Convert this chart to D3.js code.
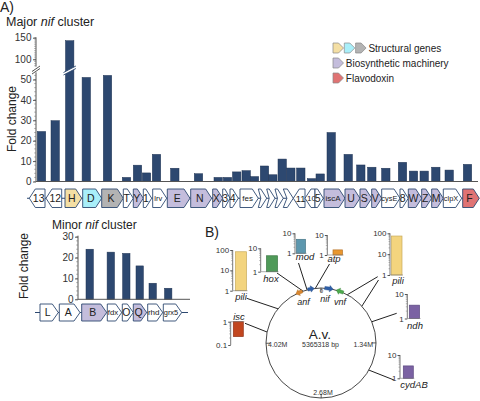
<!DOCTYPE html>
<html><head><meta charset="utf-8">
<script src="https://cdn.jsdelivr.net/npm/d3@7"></script>
<style>body{margin:0;background:#fff}svg{display:block;font-family:"Liberation Sans",Arial,sans-serif}</style>
</head><body><svg id="c" width="480" height="401"></svg>
<script>
// ---------- DATA ----------
// Major nif cluster genes (position in kb along the cluster)
const majorGenes  = ["13","12","H","D","K","T","Y","1","lrv","E","N","X","3","4","fes","","","","","11","10","5","iscA","U","S","V","cysE","8","W","Z","M","clpX","F"];
const majorStart  = [0.03,1.70,3.60,5.37,7.27,9.43,10.43,11.43,12.37,13.83,16.17,18.37,19.37,20.10,21.10,22.93,23.77,24.60,25.43,26.43,27.60,28.60,29.50,31.60,33.10,34.27,35.27,37.10,37.93,39.27,40.27,41.43,43.37];
const majorEnd    = [1.60,3.27,5.27,7.27,9.43,10.43,11.43,12.27,13.77,16.10,18.27,19.37,20.10,20.93,22.93,23.77,24.60,25.43,26.43,27.60,28.60,29.43,31.60,33.10,34.27,35.27,37.10,37.93,39.27,40.27,41.43,43.27,45.03];
const majorStrand = [-1,-1,1,1,1,1,1,1,1,1,1,1,1,1,1,1,1,1,1,-1,-1,1,1,1,1,1,1,1,1,1,1,1,1];
const majorType   = ["o","o","H","D","K","o","b","o","o","b","b","b","o","o","o","o","o","o","o","o","o","o","b","b","b","b","o","o","b","b","b","o","f"];
// Major cluster fold change bars (position kb, value)
const majorBarPos   = [1.25,2.62,4.07,5.73,7.85,9.75,10.85,11.75,12.75,14.58,16.95,18.92,19.85,20.77,21.72,22.55,23.55,24.38,25.32,26.18,27.18,28.25,29.12,30.22,31.92,33.18,34.28,35.68,37.35,38.45,39.52,40.68,42.02,43.85];
const majorBarValue = [24.5,29.8,143,51,52,2,8,4.2,13.3,6.5,3.8,2,2,4.7,5.3,2.4,7.6,3.3,11,6.6,6.6,1.4,3.7,24,13.3,8.1,7,6.5,9.4,5.1,5.1,7,5.6,8.4];
const majorLowTicks  = [0,10,20,30,40,50];
const majorHighTicks = [100,150];

// Minor nif cluster
const minorGenes  = ["L","A","B","fdx","O","Q","rhd","grx5"];
const minorStart  = [0.5,2.43,4.67,7.23,8.73,9.83,11.27,12.83];
const minorEnd    = [2.33,4.5,7.17,8.67,9.83,11.17,12.77,14.67];
const minorStrand = [1,1,1,1,1,1,1,1];
const minorType   = ["o","o","b","o","o","b","o","o"];
const minorBarPos   = [5.47,7.58,9.13,10.47,11.77,13.32];
const minorBarValue = [24,22.6,22,16,7.7,5.3];
const minorTicks = [0,10,20,30];

// Legend
const legendLabels = ["Structural genes","Biosynthetic machinery","Flavodoxin"];
const legendTypes  = [["H","D","K"],["b"],["f"]];

// Panel B: genome
const genomeLength = 5365318;
const genomeTicks  = [0,1340000,2680000,4020000];
const genomeTickLabels = ["0","1.34M","2.68M","4.02M"];
const clusterNames  = ["anf","nif","nif","vnf"];
const clusterPos    = [5015000,5208800,123700,298000];
const clusterStrand = [-1,1,1,-1];
const lociNames = ["pili","hox","mod","atp","pili","ndh","isc","cydAB"];
const lociPos   = [[4597700],[5079200],[5146200],[5277400],[426200,715400],[1003000],[4195300],[1781000]];
const lociValue = [82,4.8,5,1.8,74,3.5,0.23,3.4];
const lociMin   = [1,1,1,1,1,1,0.1,1];
const lociMax   = [100,10,10,10,100,10,1,10];

// ---------- STYLE / LAYOUT ----------
const navy = "#2d4870";
const fills = {o:"#ffffff",H:"#f4dfa4",D:"#a9eff9",K:"#b3b3b3",b:"#c4bddc",f:"#e07373"};
const lociColor  = ["#f3d47e","#4f9a59","#5d97ae","#e9972f","#f3d47e","#7b62a3","#c2461f","#7b62a3"];
const lociStroke = ["#c8aa5a","#3b7744","#467587","#b8752a","#c8aa5a","#5b4880","#90341a","#5b4880"];
const miniLayout = [
 {ax:232.7,yb:290.7,yt:250,  bx0:235.5,bx1:246.5,lx:241,ly:300,  lineFrom:[[246.7,298.3]]},
 {ax:260.7,yb:271.7,yt:248.3,bx0:266.5,bx1:277.5,lx:271,ly:281.5,lineFrom:[[277,273]]},
 {ax:295,  yb:253.3,yt:233.3,bx0:296.5,bx1:305.5,lx:305,ly:259.5,lineFrom:[[298.5,263]]},
 {ax:327.3,yb:255,  yt:235,  bx0:333,  bx1:342.5,lx:334,ly:262,  lineFrom:[[329.5,264]]},
 {ax:390,  yb:275,  yt:233.3,bx0:391.5,bx1:402,  lx:398,ly:283.5,lineFrom:[[377.7,276.7],[378.5,280]]},
 {ax:407.3,yb:318.5,yt:294,  bx0:409.3,bx1:419.5,lx:415,ly:328.5,lineFrom:[[396.7,313.3]]},
 {ax:230.7,yb:345,  yt:321.7,bx0:233.3,bx1:243.3,lx:239,ly:319.5,lineFrom:[[245,323.3]]},
 {ax:400,  yb:378.3,yt:355,  bx0:403.3,bx1:413.3,lx:414,ly:387.5,lineFrom:[[394,380]]}
];

const svg = d3.select("#c");

function genePath(x0,x1,yT,yB,strand,head,notch){
  const ym=(yT+yB)/2, w=x1-x0, h=Math.min(head,w*0.7);
  if(strand>0){
    const n = notch? Math.min(h*0.6,w-h) : 0;
    return `M${x0},${yT}L${x1-h},${yT}L${x1},${ym}L${x1-h},${yB}L${x0},${yB}L${x0+n},${ym}Z`;
  }
  return `M${x1},${yT}L${x0+h},${yT}L${x0},${ym}L${x0+h},${yB}L${x1},${yB}Z`;
}

function drawGenes(g,x,labels,starts,ends,strands,types,yT,yB,backbone){
  const ym=(yT+yB)/2;
  if(backbone) g.append("line").attr("x1",backbone[0]).attr("x2",backbone[1]).attr("y1",ym).attr("y2",ym).attr("stroke",navy).attr("stroke-width",1);
  labels.forEach((lab,i)=>{
    const x0=x(starts[i]), x1=x(ends[i]);
    const head=6, w=x1-x0, h=Math.min(head,w*0.7);
    g.append("path").attr("d",genePath(x0,x1,yT,yB,strands[i],head,lab===""))
      .attr("fill",fills[types[i]]).attr("stroke",navy).attr("stroke-width",0.9).attr("stroke-linejoin","miter");
    if(lab){
      let fs = lab.length>=3 ? 8 : 10.5;
      fs = Math.min(fs, w/(lab.length*0.62));
      const cx = (x0+x1)/2 - strands[i]*h*0.25;
      g.append("text").attr("x",cx).attr("y",ym+fs*0.36).attr("text-anchor","middle")
        .attr("font-size",fs).attr("fill","#222").text(lab);
    }
  });
}

// ---------- PANEL A : MAJOR ----------
svg.append("text").attr("x",0).attr("y",12).attr("font-size",14).attr("fill","#222").text("A)");
const t1 = svg.append("text").attr("x",6).attr("y",26).attr("font-size",12.5).attr("fill","#222");
t1.append("tspan").text("Major ");
t1.append("tspan").attr("font-style","italic").text("nif");
t1.append("tspan").text(" cluster");

const xMaj = d3.scaleLinear().domain([0,45]).range([29,479]);
const yLow = d3.scaleLinear().domain([0,50]).range([181.5,79.5]);
const yHigh = d3.scaleLinear().domain([100,150]).range([59.3,37.7]);
const breakVal = 60;
const axX = 36;
const gA = svg.append("g");

gA.append("line").attr("x1",axX).attr("x2",axX).attr("y1",yLow(0)).attr("y2",yLow(53.5)).attr("stroke","#555");
gA.append("line").attr("x1",axX).attr("x2",axX).attr("y1",yHigh(83)).attr("y2",yHigh(151)).attr("stroke","#555");
d3.range(0,54,2).forEach(v=>gA.append("line").attr("x1",axX-1.8).attr("x2",axX).attr("y1",yLow(v)).attr("y2",yLow(v)).attr("stroke","#777").attr("stroke-width",0.6));
d3.range(85,151,5).forEach(v=>gA.append("line").attr("x1",axX-1.8).attr("x2",axX).attr("y1",yHigh(v)).attr("y2",yHigh(v)).attr("stroke","#777").attr("stroke-width",0.6));
const axLow = d3.axisLeft(yLow).tickValues(majorLowTicks).tickSize(3).tickPadding(1.5);
const axHigh = d3.axisLeft(yHigh).tickValues(majorHighTicks).tickSize(3).tickPadding(1.5);
[axLow,axHigh].forEach(a=>{
  const g=gA.append("g").attr("transform",`translate(${axX},0)`).call(a);
  g.select(".domain").remove();
  g.selectAll("line").attr("stroke","#555");
  g.selectAll("text").attr("font-size",10).attr("fill","#333").attr("font-family","Liberation Sans, Arial, sans-serif");
});
gA.append("path").attr("d",`M${axX-4},${71.5}L${axX+4},${66}L${axX+4},${68.5}L${axX-4},${74}Z`).attr("fill","#fff");
gA.append("line").attr("x1",axX-4).attr("y1",71.5).attr("x2",axX+4).attr("y2",66).attr("stroke","#555");
gA.append("line").attr("x1",axX-4).attr("y1",74).attr("x2",axX+4).attr("y2",68.5).attr("stroke","#555");

gA.append("text").attr("transform",`translate(15.5,119) rotate(-90)`).attr("text-anchor","middle").attr("font-size",12).attr("fill","#222").text("Fold change");

const bw = 0.84;
majorBarValue.forEach((v,i)=>{
  const x0 = xMaj(majorBarPos[i]-bw/2), x1 = xMaj(majorBarPos[i]+bw/2);
  const top = v>breakVal ? yHigh(v) : yLow(v);
  gA.append("rect").attr("x",x0).attr("y",top).attr("width",x1-x0).attr("height",yLow(0)-top)
    .attr("fill",navy).attr("stroke","#1f3352").attr("stroke-width",0.5);
  if(v>breakVal){
    const bx0=x0-2, bx1=x1+2;
    gA.append("path").attr("d",`M${bx0},${72.5}L${bx1},${66}L${bx1},${68.5}L${bx0},${75}Z`).attr("fill","#fff");
    gA.append("line").attr("x1",bx0).attr("y1",72.5).attr("x2",bx1).attr("y2",66).attr("stroke",navy).attr("stroke-width",0.9);
    gA.append("line").attr("x1",bx0).attr("y1",75).attr("x2",bx1).attr("y2",68.5).attr("stroke",navy).attr("stroke-width",0.9);
  }
});
gA.append("line").attr("x1",axX).attr("x2",478).attr("y1",yLow(0)).attr("y2",yLow(0)).attr("stroke","#555");

drawGenes(svg.append("g"),xMaj,majorGenes,majorStart,majorEnd,majorStrand,majorType,189,207.5,[27,479]);

// legend
const gL = svg.append("g");
const legY = [43,58,73];
legendLabels.forEach((lab,i)=>{
  legendTypes[i].forEach((t,j)=>{
    const x0 = 333 + j*11.3;
    gL.append("path").attr("d",genePath(x0,x0+10.5,legY[i],legY[i]+10,1,5,false))
      .attr("fill",fills[t]).attr("stroke","#888").attr("stroke-width",0.7);
  });
  const tx = 333 + legendTypes[i].length*11.3 + 1.5;
  gL.append("text").attr("x",tx).attr("y",legY[i]+8.8).attr("font-size",10).attr("fill","#222").text(lab);
});

// ---------- PANEL A : MINOR ----------
const t2 = svg.append("text").attr("x",52).attr("y",229).attr("font-size",12).attr("fill","#222");
t2.append("tspan").text("Minor ");
t2.append("tspan").attr("font-style","italic").text("nif");
t2.append("tspan").text(" cluster");

const xMin = d3.scaleLinear().domain([0,15.3]).range([35,188]);
const yMin = d3.scaleLinear().domain([0,30]).range([299.3,236.7]);
const mAx = 78;
const gM = svg.append("g");
gM.append("line").attr("x1",mAx).attr("x2",mAx).attr("y1",yMin(0)).attr("y2",yMin(30.5)).attr("stroke","#555");
d3.range(0,31,2).forEach(v=>gM.append("line").attr("x1",mAx-1.8).attr("x2",mAx).attr("y1",yMin(v)).attr("y2",yMin(v)).attr("stroke","#777").attr("stroke-width",0.6));
{
  const g=gM.append("g").attr("transform",`translate(${mAx},0)`).call(d3.axisLeft(yMin).tickValues(minorTicks).tickSize(3).tickPadding(1.5));
  g.select(".domain").remove();
  g.selectAll("line").attr("stroke","#555");
  g.selectAll("text").attr("font-size",10).attr("fill","#333").attr("font-family","Liberation Sans, Arial, sans-serif");
}
gM.append("text").attr("transform",`translate(28,266) rotate(-90)`).attr("text-anchor","middle").attr("font-size",12).attr("fill","#222").text("Fold change");
const mbw = 0.74;
minorBarValue.forEach((v,i)=>{
  const x0=xMin(minorBarPos[i]-mbw/2), x1=xMin(minorBarPos[i]+mbw/2);
  gM.append("rect").attr("x",x0).attr("y",yMin(v)).attr("width",x1-x0).attr("height",yMin(0)-yMin(v))
    .attr("fill",navy).attr("stroke","#1f3352").attr("stroke-width",0.5);
});
gM.append("line").attr("x1",mAx).attr("x2",190).attr("y1",yMin(0)).attr("y2",yMin(0)).attr("stroke","#555");
drawGenes(svg.append("g"),xMin,minorGenes,minorStart,minorEnd,minorStrand,minorType,304,321,[35,188]);

// ---------- PANEL B ----------
svg.append("text").attr("x",205).attr("y",237).attr("font-size",14).attr("fill","#222").text("B)");
const cx=321, cy=343, R=55;
const ang = d3.scaleLinear().domain([0,genomeLength]).range([0,2*Math.PI]);
const pt = (p,r)=>[cx+r*Math.sin(ang(p)), cy-r*Math.cos(ang(p))];
const gB = svg.append("g");

lociNames.forEach((n,i)=>{
  lociPos[i].forEach((p,k)=>{
    const q = pt(p,R);
    const f = miniLayout[i].lineFrom[Math.min(k,miniLayout[i].lineFrom.length-1)];
    gB.append("line").attr("x1",f[0]).attr("y1",f[1]).attr("x2",q[0]).attr("y2",q[1]).attr("stroke","#222").attr("stroke-width",1);
  });
});

gB.append("circle").attr("cx",cx).attr("cy",cy).attr("r",R).attr("fill","none").attr("stroke","#333").attr("stroke-width",0.9);
genomeTicks.forEach((p,i)=>{
  const a=pt(p,R), b=pt(p,R-4);
  gB.append("line").attr("x1",a[0]).attr("y1",a[1]).attr("x2",b[0]).attr("y2",b[1]).attr("stroke","#333").attr("stroke-width",0.8);
});
const tl = [[321.5,293.2,"middle",6],[373,346.5,"end",7],[323,395,"middle",7],[268,346.5,"start",7]];
genomeTickLabels.forEach((l,i)=>{
  gB.append("text").attr("x",tl[i][0]).attr("y",tl[i][1]).attr("text-anchor",tl[i][2]).attr("font-size",tl[i][3]).attr("fill","#333").text(l);
});
gB.append("text").attr("x",320).attr("y",339).attr("text-anchor","middle").attr("font-size",13.5).attr("fill","#222").text("A.v.");
gB.append("text").attr("x",320.5).attr("y",347).attr("text-anchor","middle").attr("font-size",7).attr("fill","#333").text(genomeLength+" bp");

const clColors = ["#d9862e","#2f5fa8","#2f5fa8","#4caa4c"];
const clLen = [7,6.5,8.5,7.5];
clusterNames.forEach((n,i)=>{
  const p = pt(clusterPos[i],R);
  const deg = ang(clusterPos[i])*180/Math.PI;
  const L=clLen[i], hw=1.6, hh=3.2, hd=3.5;
  const d = `M${-L/2},${-hw}L${L/2-hd},${-hw}L${L/2-hd},${-hh}L${L/2},0L${L/2-hd},${hh}L${L/2-hd},${hw}L${-L/2},${hw}Z`;
  gB.append("path").attr("d",d).attr("fill",clColors[i]).attr("stroke",d3.color(clColors[i]).darker(0.6)).attr("stroke-width",0.4)
    .attr("transform",`translate(${p[0]},${p[1]}) rotate(${deg}) scale(${clusterStrand[i]},1)`);
});
[["anf",303.5,305],["nif",325,301.5],["vnf",340,305]].forEach(d=>{
  gB.append("text").attr("x",d[1]).attr("y",d[2]).attr("text-anchor","middle").attr("font-size",9).attr("font-style","italic").attr("fill","#222").text(d[0]);
});

lociNames.forEach((n,i)=>{
  const L = miniLayout[i];
  const y = d3.scaleLog().domain([lociMin[i],lociMax[i]]).range([L.yb,L.yt]);
  const g = gB.append("g");
  g.append("line").attr("x1",L.ax).attr("x2",L.ax).attr("y1",L.yb).attr("y2",L.yt).attr("stroke","#555").attr("stroke-width",0.8);
  let dec = lociMin[i];
  while(dec < lociMax[i]-1e-9){
    for(let k=2;k<10;k++){
      const v=dec*k;
      g.append("line").attr("x1",L.ax-1.5).attr("x2",L.ax).attr("y1",y(v)).attr("y2",y(v)).attr("stroke","#777").attr("stroke-width",0.5);
    }
    dec*=10;
  }
  const ticks = [];
  for(let v=lociMin[i]; v<=lociMax[i]*1.0001; v*=10) ticks.push(v);
  const ag = g.append("g").attr("transform",`translate(${L.ax},0)`)
    .call(d3.axisLeft(y).tickValues(ticks).tickFormat(v=>v<1?"0.1":d3.format("d")(v)).tickSize(2.5).tickPadding(1));
  ag.select(".domain").remove();
  ag.selectAll("line").attr("stroke","#555");
  ag.selectAll("text").attr("font-size",8).attr("fill","#333").attr("font-family","Liberation Sans, Arial, sans-serif");
  const v = lociValue[i];
  const base = lociMin[i] < 1 ? 1 : lociMin[i];
  const y0 = Math.min(y(v),y(base)), y1 = Math.max(y(v),y(base));
  g.append("rect").attr("x",L.bx0).attr("y",y0).attr("width",L.bx1-L.bx0).attr("height",y1-y0)
    .attr("fill",lociColor[i]).attr("stroke",lociStroke[i]).attr("stroke-width",0.7);
  g.append("line").attr("x1",L.ax).attr("x2",L.bx1+1).attr("y1",y(base)).attr("y2",y(base)).attr("stroke","#777").attr("stroke-width",0.6);
  g.append("text").attr("x",L.lx).attr("y",L.ly).attr("text-anchor","middle").attr("font-size",9.5).attr("font-style","italic").attr("fill","#222").text(n);
});
</script></body></html>
